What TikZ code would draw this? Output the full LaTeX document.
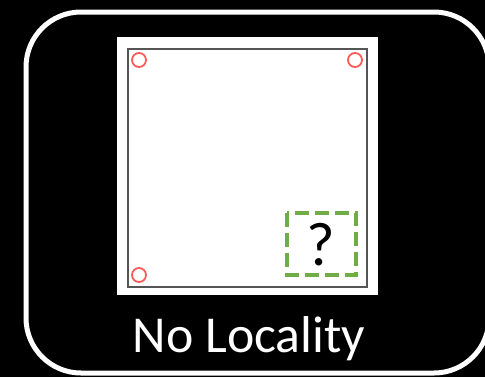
\documentclass[tikz,border=0pt]{standalone}
\usepackage{fontspec}
\setmainfont{Carlito}
\definecolor{redc}{HTML}{FF5A5A}
\definecolor{greenc}{HTML}{70AD47}
\definecolor{frameg}{HTML}{555555}
\begin{document}
\begin{tikzpicture}[x=1bp,y=-1bp,
  corner/.style={draw=redc,line width=1.8bp,circle,minimum size=14bp,inner sep=0pt},
  lbl/.style={text=white,font=\fontsize{52}{60}\selectfont},
]
\useasboundingbox (0,0) rectangle (485,377);
\fill[black] (0,0) rectangle (485,377);
\begin{scope}
\clip (0,0) rectangle (485,377);
\draw[white,line width=5bp,rounded corners=55bp] (26,12) rectangle (489,373);
\end{scope}
\fill[white] (117,37) rectangle (378,295);
\draw[frameg,line width=2bp] (128,49) rectangle (367,287);
\node[corner] (c1) at (139,60) {};
\node[corner] (c2) at (355,60) {};
\node[corner] (c3) at (139,275) {};
\draw[greenc,line width=4bp,dash pattern=on 14bp off 6bp] (287,213) rectangle (356,275);
\node[font=\fontsize{62}{70}\selectfont,inner sep=0pt] (q) at (321,245) {?};
\node[lbl,anchor=base] (t) at (249,352) {No Locality};
\end{tikzpicture}
\end{document}
